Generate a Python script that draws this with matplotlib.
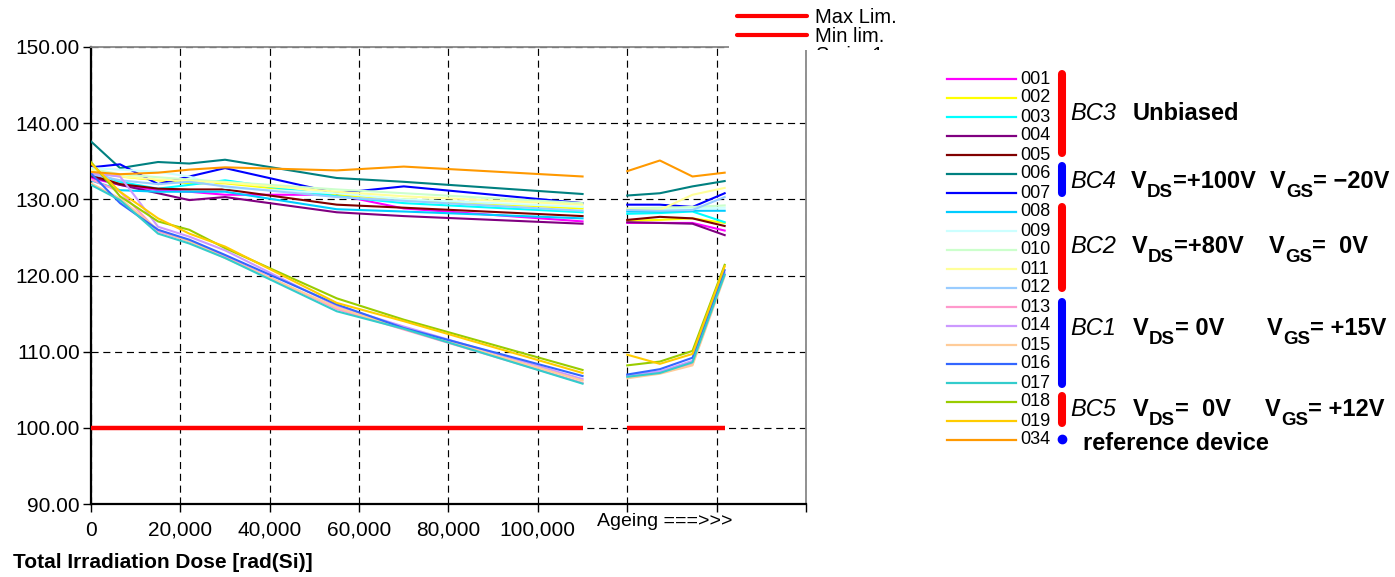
import matplotlib
matplotlib.use('Agg')
import matplotlib.pyplot as plt
from matplotlib.lines import Line2D
from matplotlib.patches import Rectangle
from matplotlib.text import Annotation
from matplotlib.transforms import Bbox
import matplotlib.ticker as mticker

plt.rcParams['font.family'] = ['Liberation Sans', 'DejaVu Sans']

# ---------------- data ----------------
dose_x = [0, 6500, 15000, 22000, 30000, 55000, 70000, 110000]
ageing_x = [120000, 127300, 134600, 141800]

device_ids = ['001', '002', '003', '004', '005', '006', '007', '008', '009', '010',
              '011', '012', '013', '014', '015', '016', '017', '018', '019', '034']
device_colors = ['#FF00FF', '#FFFF00', '#00FFFF', '#800080', '#800000', '#008080',
                 '#0000FF', '#00CCFF', '#CCFFFF', '#CCFFCC', '#FFFF99', '#99CCFF',
                 '#FF99CC', '#CC99FF', '#FFCC99', '#3366FF', '#33CCCC', '#99CC00',
                 '#FFCC00', '#FF9900']

d001 = [132.8, 131.9, 131.2, 131.0, 130.6, 130.6, 128.8, 127.1]
d002 = [133.6, 133.0, 132.5, 132.1, 132.1, 130.6, 130.0, 128.8]
d003 = [133.6, 132.3, 131.4, 131.9, 132.5, 130.4, 129.5, 128.3]
d004 = [133.0, 131.9, 130.8, 129.9, 130.3, 128.3, 127.8, 126.8]
d005 = [133.2, 132.0, 131.4, 131.3, 131.3, 129.3, 128.9, 127.8]
d006 = [137.6, 134.1, 134.9, 134.7, 135.2, 132.8, 132.3, 130.7]
d007 = [134.2, 134.6, 132.0, 133.0, 134.1, 130.8, 131.7, 129.5]
d008 = [132.5, 131.2, 131.0, 131.0, 131.0, 128.7, 128.4, 127.5]
d009 = [134.1, 133.9, 133.6, 133.0, 131.5, 130.8, 130.0, 129.0]
d010 = [134.0, 133.3, 132.9, 132.6, 132.3, 131.3, 130.8, 129.5]
d011 = [133.8, 133.0, 132.6, 132.4, 132.2, 131.0, 130.4, 129.3]
d012 = [133.3, 132.5, 132.0, 132.3, 131.7, 130.3, 129.8, 128.5]
d013 = [132.6, 131.0, 125.8, 124.5, 122.5, 115.6, 112.9, 105.9]
d014 = [133.4, 133.0, 126.4, 125.1, 123.3, 116.0, 113.3, 106.4]
d015 = [132.1, 130.1, 126.0, 124.5, 122.3, 115.8, 113.0, 106.2]
d016 = [133.4, 129.5, 126.0, 124.7, 122.7, 116.2, 113.1, 106.8]
d017 = [131.9, 129.9, 125.5, 124.2, 122.3, 115.3, 113.0, 105.8]
d018 = [134.9, 130.4, 127.1, 126.0, 123.6, 117.0, 114.2, 107.6]
d019 = [134.7, 131.0, 127.5, 125.5, 123.8, 116.4, 114.0, 107.2]
d034 = [133.6, 133.3, 133.5, 133.9, 134.2, 133.8, 134.3, 133.0]

a001 = [126.9, 126.9, 126.9, 125.9]
a002 = [127.2, 127.3, 127.5, 126.9]
a003 = [128.1, 128.2, 128.4, 127.0]
a004 = [127.0, 126.9, 126.8, 125.3]
a005 = [127.3, 127.7, 127.5, 126.5]
a006 = [130.5, 130.8, 131.7, 132.4]
a007 = [129.3, 129.3, 129.0, 130.8]
a008 = [128.4, 128.4, 128.5, 128.5]
a009 = [128.7, 128.7, 128.8, 128.9]
a010 = [128.8, 128.9, 129.0, 129.2]
a011 = [128.7, 128.6, 130.6, 131.5]
a012 = [128.6, 128.5, 128.6, 130.3]
a013 = [106.8, 107.3, 108.4, 120.1]
a014 = [106.9, 107.4, 108.8, 120.3]
a015 = [106.5, 107.1, 108.2, 119.9]
a016 = [107.0, 107.7, 109.2, 120.7]
a017 = [106.7, 107.2, 108.6, 120.1]
a018 = [108.2, 108.7, 110.1, 121.4]
a019 = [109.6, 108.4, 109.7, 121.2]
a034 = [133.7, 135.1, 133.0, 133.5]

dose_series = [d001, d002, d003, d004, d005, d006, d007, d008, d009, d010,
               d011, d012, d013, d014, d015, d016, d017, d018, d019, d034]
ageing_series = [a001, a002, a003, a004, a005, a006, a007, a008, a009, a010,
                 a011, a012, a013, a014, a015, a016, a017, a018, a019, a034]

min_lim = 100.0
y_ticks = [90, 100, 110, 120, 130, 140, 150]
x_ticks = [0, 20000, 40000, 60000, 80000, 100000, 120000, 140000, 160000]
x_labels = ['0', '20,000', '40,000', '60,000', '80,000', '100,000', '', '', '']

groups = [
    ('BC3', 'Unbiased', None, None, None, None),
    ('BC4', None, 'DS', '=+100V', 'GS', '= \u221220V'),
    ('BC2', None, 'DS', '=+80V', 'GS', '=  0V'),
    ('BC1', None, 'DS', '= 0V', 'GS', '= +15V'),
    ('BC5', None, 'DS', '=  0V', 'GS', '= +12V'),
]

# ---------------- figure ----------------
W, H = 1395, 577
fig = plt.figure(figsize=(W / 100, H / 100), dpi=100)


def fx(px):
    return px / W


def fy(py):
    return 1 - py / H


ax = fig.add_axes([fx(91), fy(504), fx(806) - fx(91), fy(47) - fy(504)])

for vals, col in zip(dose_series, device_colors):
    ax.plot(dose_x, vals, color=col, lw=1.5, zorder=3)
for vals, col in zip(ageing_series, device_colors):
    ax.plot(ageing_x, vals, color=col, lw=1.5, zorder=3)

ax.plot([dose_x[0], dose_x[-1]], [min_lim, min_lim], color='#FF0000', lw=3.2,
        solid_capstyle='butt', zorder=4)
ax.plot([ageing_x[0], ageing_x[-1]], [min_lim, min_lim], color='#FF0000', lw=3.2,
        solid_capstyle='butt', zorder=4)

ax.set_xlim(0, 160000)
ax.set_ylim(90, 150)
ax.set_yticks(y_ticks)
ax.yaxis.set_major_formatter(mticker.FormatStrFormatter('%.2f'))
ax.set_xticks(x_ticks)
ax.set_xticklabels(x_labels)
ax.tick_params(axis='both', direction='out', length=6, width=1, color='black',
               labelsize=15, labelcolor='black')
ax.tick_params(axis='x', pad=6)
ax.tick_params(axis='y', pad=2)
ax.set_axisbelow(True)
ax.grid(True, color='black', linestyle=(0, (6, 4)), lw=0.85)

for side in ['left', 'bottom']:
    ax.spines[side].set_color('black')
    ax.spines[side].set_linewidth(1.6)
for side in ['top', 'right']:
    ax.spines[side].set_color('#888888')
    ax.spines[side].set_linewidth(1.3)

fig.text(fx(597), fy(522), 'Ageing ===>>>', fontsize=14, va='center', ha='left')
fig.text(fx(13), fy(562), 'Total Irradiation Dose [rad(Si)]', fontsize=15,
         fontweight='bold', va='center', ha='left')

# ---------------- top legend (limits) ----------------
fig.add_artist(Rectangle((fx(729), fy(50)), fx(940) - fx(729), fy(0) - fy(50),
                         transform=fig.transFigure, facecolor='white',
                         edgecolor='none', zorder=5))
for yy, lab in [(16, 'Max Lim.'), (35, 'Min lim.')]:
    fig.add_artist(Line2D([fx(737), fx(807)], [fy(yy), fy(yy)], transform=fig.transFigure,
                          color='#FF0000', lw=3, solid_capstyle='round', zorder=6))
    fig.text(fx(815), fy(yy + 7), lab, fontsize=14.5, va='baseline', ha='left', zorder=6)
t_series = fig.text(fx(815), fy(61), 'Series1', fontsize=14.5, va='baseline', ha='left',
                    zorder=6)
t_series.set_clip_box(Bbox([[0, H - 50], [W, H]]))
t_series.set_clip_on(True)

# ---------------- right legend ----------------
row0 = 79
dy = 19.0
for i, (dev, col) in enumerate(zip(device_ids, device_colors)):
    yy = row0 + i * dy
    fig.add_artist(Line2D([fx(947), fx(1016)], [fy(yy), fy(yy)], transform=fig.transFigure,
                          color=col, lw=1.6))
    fig.text(fx(1020), fy(yy), dev, fontsize=13, va='center', ha='left')

bars = [('#FF0000', 70, 157), ('#0000FF', 162, 197), ('#FF0000', 203, 292),
        ('#0000FF', 298, 388), ('#FF0000', 392, 427)]
for col, y0, y1 in bars:
    fig.add_artist(Line2D([fx(1062), fx(1062)], [fy(y0 + 4), fy(y1 - 4)],
                          transform=fig.transFigure, color=col, lw=5.8,
                          solid_capstyle='round'))
fig.add_artist(Line2D([fx(1062)], [fy(439)], transform=fig.transFigure, color='#0000FF',
                      marker='o', markersize=6, lw=0))

MAIN = 17
SUB = 13.5


def vsub(x_px, base_px, sub, rest):
    t1 = fig.text(fx(x_px), fy(base_px), 'V', fontsize=MAIN, fontweight='bold',
                  va='baseline', ha='left')
    t2 = Annotation(sub, xy=(1, 0), xycoords=t1, xytext=(0.3, -2.7),
                    textcoords='offset points', fontsize=SUB, fontweight='bold',
                    va='baseline', ha='left')
    fig.add_artist(t2)
    t3 = Annotation(rest, xy=(1, 0), xycoords=(t2, t1), xytext=(0, 0),
                    textcoords='offset points', fontsize=MAIN, fontweight='bold',
                    va='bottom', ha='left')
    fig.add_artist(t3)


baselines = [120, 188, 253, 335, 416]
vds_x = [None, 1131, 1132, 1133, 1133]
vgs_x = [None, 1270, 1269, 1267, 1265]
for (name, word, sub1, rest1, sub2, rest2), base, xd, xg in zip(groups, baselines, vds_x, vgs_x):
    fig.text(fx(1070), fy(base), name, fontsize=MAIN, fontstyle='italic',
             va='baseline', ha='left')
    if word is not None:
        fig.text(fx(1133), fy(base), word, fontsize=MAIN, fontweight='bold',
                 va='baseline', ha='left')
    else:
        vsub(xd, base, sub1, rest1)
        vsub(xg, base, sub2, rest2)

fig.text(fx(1083), fy(450), 'reference device', fontsize=MAIN, fontweight='bold',
         va='baseline', ha='left')

fig.savefig('out.png', dpi=100)
